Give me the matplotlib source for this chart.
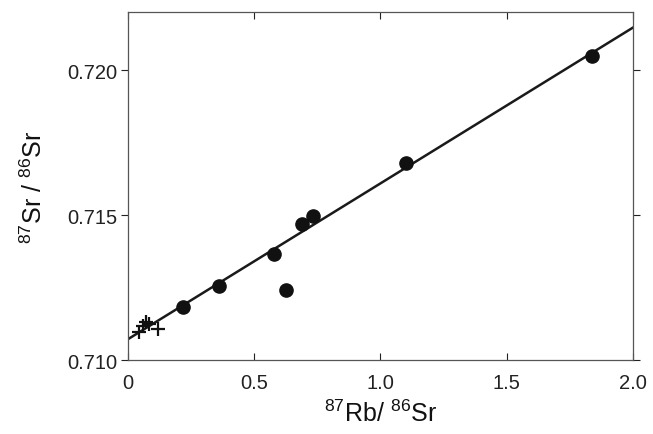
"""Rb-Sr isochron plot"""
import numpy as np
import matplotlib
matplotlib.use("Agg")
import matplotlib.pyplot as plt

plt.rcParams['font.family'] = ['Liberation Sans', 'DejaVu Sans']
plt.rcParams['mathtext.fontset'] = 'custom'
plt.rcParams['mathtext.rm'] = 'Liberation Sans'
plt.rcParams['mathtext.it'] = 'Liberation Sans'

# whole-rock samples (filled circles)
rb_sr = [0.218, 0.360, 0.578, 0.626, 0.689, 0.733, 1.101, 1.838]
sr_sr = [0.71183, 0.71255, 0.71366, 0.71241, 0.71469, 0.71497, 0.71679, 0.72048]

# mineral / low-Rb samples (crosses)
rb_sr_low = [0.045, 0.058, 0.072, 0.085, 0.119]
sr_sr_low = [0.71097, 0.71118, 0.71131, 0.71125, 0.71107]

# isochron fit
intercept = 0.71072
slope = 0.00537
x_line = np.array([0.0, 2.0])

x_ticks = [0, 0.5, 1.0, 1.5, 2.0]
x_tick_labels = ['0', '0.5', '1.0', '1.5', '2.0']
y_ticks = [0.710, 0.715, 0.720]
y_tick_labels = ['0.710', '0.715', '0.720']

fig = plt.figure(figsize=(6.53, 4.35), dpi=100)
ax = fig.add_axes([0.196, 0.170, 0.773, 0.800])

ax.plot(x_line, intercept + slope * x_line, '-', color='#1a1a1a', lw=1.8, zorder=2)
ax.plot(rb_sr, sr_sr, 'o', color='#111111', ms=9.5, zorder=3)
ax.plot(rb_sr_low, sr_sr_low, '+', color='#111111', ms=10, mew=1.6, zorder=3)

ax.set_xlim(0, 2.0)
ax.set_ylim(0.710, 0.722)
ax.set_xticks(x_ticks)
ax.set_xticklabels(x_tick_labels)
ax.set_yticks(y_ticks)
ax.set_yticklabels(y_tick_labels)

ax.tick_params(axis='both', labelsize=14.5, colors='#222222', length=5, width=0.8)
ax.tick_params(axis='y', direction='out', right=True, pad=3)
ax.tick_params(axis='x', direction='in', top=True, pad=9)
for s in ax.spines.values():
    s.set_color('#555555')
    s.set_linewidth(0.9)

ax.set_xlabel(r'$^{87}$Rb/ $^{86}$Sr', fontsize=18, color='#111111', labelpad=6)
ax.set_ylabel(r'$^{87}$Sr / $^{86}$Sr', fontsize=18, color='#111111', labelpad=14)

fig.savefig('out.png', dpi=100)
